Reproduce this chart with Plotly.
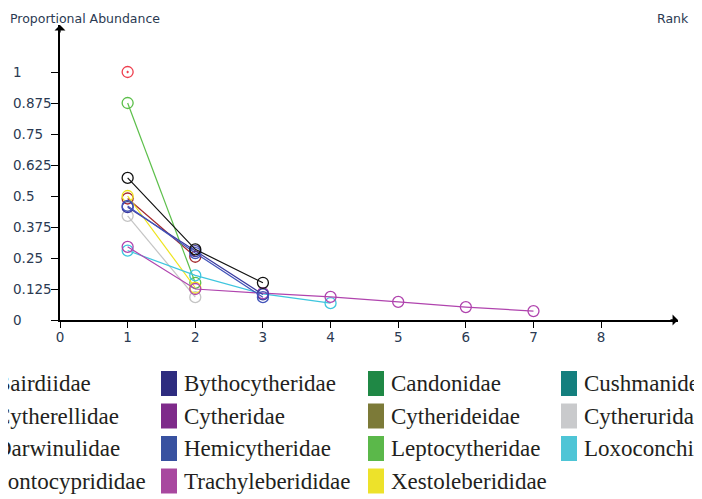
import plotly.graph_objects as go

# rank abundance data (rank -> proportional abundance)
ranks_red = [1]
abund_red = [1.0]
ranks_darkred = [1, 2]
abund_darkred = [0.49, 0.255]
ranks_green = [1, 2]
abund_green = [0.875, 0.15]
ranks_black = [1, 2, 3]
abund_black = [0.573, 0.285, 0.15]
ranks_navy = [1, 2, 3]
abund_navy = [0.455, 0.278, 0.103]
ranks_blue = [1, 2, 3]
abund_blue = [0.46, 0.27, 0.092]
ranks_gray = [1, 2]
abund_gray = [0.42, 0.092]
ranks_yellow = [1, 2]
abund_yellow = [0.50, 0.13]
ranks_magenta = [1, 2, 3, 4, 5, 6, 7]
abund_magenta = [0.295, 0.125, 0.108, 0.093, 0.073, 0.052, 0.036]
ranks_cyan = [1, 2, 3, 4]
abund_cyan = [0.28, 0.18, 0.105, 0.068]

y_ticks = [0, 0.125, 0.25, 0.375, 0.5, 0.625, 0.75, 0.875, 1]
y_tick_text = ["0", "0.125", "0.25", "0.375", "0.5", "0.625", "0.75", "0.875", "1"]
x_ticks = [0, 1, 2, 3, 4, 5, 6, 7, 8]

# legend (image-like key under the chart), four columns
legend_cols = [
    ["Bairdiidae", "Cytherellidae", "Darwinulidae", "Pontocyprididae"],
    ["Bythocytheridae", "Cytheridae", "Hemicytheridae", "Trachyleberididae"],
    ["Candonidae", "Cytherideidae", "Leptocytheridae", "Xestoleberididae"],
    ["Cushmanidea", "Cytheruridae", "Loxoconchidae"],
]
legend_colors = [
    ["#888888", "#888888", "#888888", "#888888"],
    ["#2E2C7F", "#7E2A8A", "#3851A0", "#A8489F"],
    ["#1F8845", "#7C7A38", "#5BB84A", "#EDE22A"],
    ["#147F7E", "#C9CACC", "#4EC5D6"],
]

# page body has an 8px margin, so figure coords = window coords - 8
W, H = 694, 491
L, T = 52, 17
PW, PH = 618, 295
R, B = W - L - PW, H - T - PH
X_MAX = PW / 67.64
Y_MAX = PH / 248.0


def px(x):  # window pixel -> paper
    return (x - 60) / PW


def py(y):
    return (320 - y) / PH


series = [
    (ranks_darkred, abund_darkred, "#A3282C"),
    (ranks_gray, abund_gray, "#C4C4C4"),
    (ranks_green, abund_green, "#5CBF4A"),
    (ranks_yellow, abund_yellow, "#EEE41C"),
    (ranks_cyan, abund_cyan, "#3EC6DE"),
    (ranks_magenta, abund_magenta, "#B044AE"),
    (ranks_navy, abund_navy, "#3A3A9E"),
    (ranks_blue, abund_blue, "#4354BA"),
    (ranks_black, abund_black, "#111111"),
]

fig = go.Figure()
for xs, ys, col in series:
    fig.add_trace(go.Scatter(x=xs, y=ys, mode="lines+markers",
                             line=dict(color=col, width=1.2),
                             marker=dict(symbol="circle-open", size=11,
                                         color=col, line=dict(width=1.3)),
                             showlegend=False))
fig.add_trace(go.Scatter(x=ranks_red, y=abund_red, mode="markers",
                         marker=dict(symbol="circle-open-dot", size=11,
                                     color="#EE3F4E", line=dict(width=1.3)),
                         showlegend=False))

tick_font = dict(family="DejaVu Sans", size=13.5, color="#2B3A52")
fig.update_layout(
    width=W, height=H, autosize=False,
    margin=dict(l=L, r=R, t=T, b=B, pad=0),
    paper_bgcolor="white", plot_bgcolor="white",
    xaxis=dict(range=[0, X_MAX], tickvals=x_ticks, ticks="outside",
               ticklen=6, tickwidth=1.3, tickcolor="black", showgrid=False,
               zeroline=False, showline=True, linecolor="black", linewidth=1.6,
               tickfont=tick_font, ticklabelstandoff=-2),
    yaxis=dict(range=[0, Y_MAX], tickvals=y_ticks, ticks="outside",
               ticklen=7, tickwidth=1.3, tickcolor="black", showgrid=False,
               zeroline=False, showline=True, linecolor="black", linewidth=1.6,
               showticklabels=False),
)

# left-aligned y tick labels
for v, t in zip(y_ticks, y_tick_text):
    fig.add_annotation(x=px(11), y=v, xref="paper", yref="y", text=t,
                       showarrow=False, xanchor="left", yanchor="middle",
                       font=tick_font)

# axis arrows
fig.add_annotation(x=0, y=Y_MAX, xref="x", yref="y", ax=0, ay=9, text="",
                   showarrow=True, arrowhead=1, arrowsize=1.4,
                   arrowwidth=1.3, arrowcolor="black")
fig.add_annotation(x=X_MAX, y=0, xref="x", yref="y", ax=-9, ay=0, text="",
                   showarrow=True, arrowhead=1, arrowsize=1.4,
                   arrowwidth=1.3, arrowcolor="black")

# axis titles
title_font = dict(family="DejaVu Sans", size=12.5, color="#2B3A52")
fig.add_annotation(x=px(8), y=py(9), xref="paper", yref="paper",
                   text="Proportional Abundance", showarrow=False,
                   xanchor="left", yanchor="top", font=title_font)
fig.add_annotation(x=px(691), y=py(9), xref="paper", yref="paper",
                   text="Rank", showarrow=False,
                   xanchor="right", yanchor="top", font=title_font)

# legend grid
col_text_x = [-7, 182, 389, 582]
row_y = [383.5, 416, 448.5, 481]
for c, (names, cols) in enumerate(zip(legend_cols, legend_colors)):
    for r, (name, col) in enumerate(zip(names, cols)):
        tx = col_text_x[c]
        cy = row_y[r]
        fig.add_shape(type="rect", xref="paper", yref="paper",
                      x0=px(tx - 21), x1=px(tx - 5),
                      y0=py(cy + 12.5), y1=py(cy - 12.5),
                      fillcolor=col, line=dict(width=0))
        fig.add_annotation(x=px(tx), y=py(cy), xref="paper", yref="paper",
                           text=name, showarrow=False, xanchor="left",
                           yanchor="middle",
                           font=dict(family="Liberation Serif", size=23,
                                     color="#231F20"))

fig.write_html("out.html")
